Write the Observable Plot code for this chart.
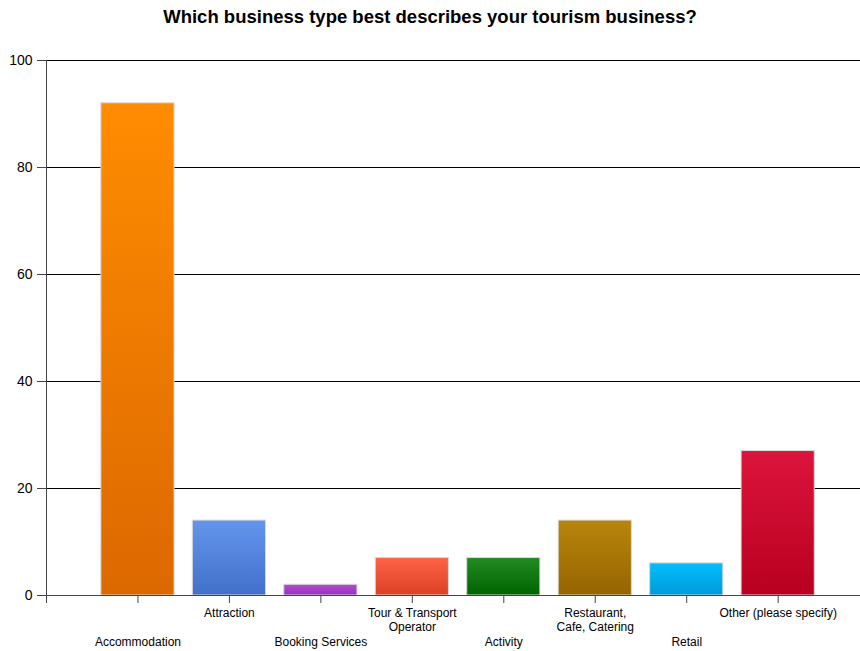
<!DOCTYPE html>
<html>
<head>
<meta charset="utf-8">
<script src="https://cdn.jsdelivr.net/npm/d3@7"></script>
<script src="https://cdn.jsdelivr.net/npm/@observablehq/plot@0.6"></script>
<style>
  body { margin: 0; background: #fff; font-family: "Liberation Sans", Arial, sans-serif; }
  #title { height: 40px; line-height: 34px; text-align: center; font-weight: bold; font-size: 18.5px; color: #000; width: 860px; }
</style>
</head>
<body>
<div id="title">Which business type best describes your tourism business?</div>
<div id="chart"></div>
<script>
const categories = ["Accommodation", "Attraction", "Booking Services", "Tour & Transport\nOperator", "Activity", "Restaurant,\nCafe, Catering", "Retail", "Other (please specify)"];
const values = [92, 14, 2, 7, 7, 14, 6, 27];
const topColors = ["#FF8C00", "#6495ED", "#B44FD0", "#FF6347", "#228B22", "#B8860B", "#00BFFF", "#DC143C"];
const bottomColors = ["#DC6800", "#4270C8", "#9530C0", "#DC4025", "#006400", "#966400", "#009AD8", "#B80020"];
const yTicks = [0, 20, 40, 60, 80, 100];

const data = categories.map((c, i) => ({pos: i + 1, category: c, value: values[i], grad: `url(#grad${i})`}));

const defs = () => {
  const d = d3.create("svg:defs");
  topColors.forEach((c, i) => {
    const g = d.append("linearGradient").attr("id", `grad${i}`).attr("x1", 0).attr("y1", 0).attr("x2", 0).attr("y2", 1);
    g.append("stop").attr("offset", "0%").attr("stop-color", c);
    g.append("stop").attr("offset", "100%").attr("stop-color", bottomColors[i]);
  });
  return d.node();
};

const chart = Plot.plot({
  width: 860,
  height: 611,
  marginLeft: 46,
  marginRight: 0,
  marginTop: 20,
  marginBottom: 56,
  style: {fontFamily: "Liberation Sans, Arial, sans-serif", color: "#000", background: "#fff"},
  x: {type: "linear", domain: [0, 8.9]},
  y: {domain: [0, 100]},
  color: {type: "identity"},
  marks: [
    defs,
    Plot.ruleY(yTicks.filter(v => v > 0), {stroke: "#000", strokeWidth: 1}),
    Plot.rectY(data, {x1: d => d.pos - 0.4, x2: d => d.pos + 0.4, y1: 0, y2: "value", fill: "grad", stroke: "#d8d8d8", strokeWidth: 1}),
    Plot.ruleY([0], {stroke: "#444"}),
    Plot.ruleX([0], {stroke: "#444"}),
    Plot.axisY({ticks: yTicks, tickSize: 9, tickPadding: 5, fontSize: 14, stroke: "#444", label: null}),
    Plot.axisX({ticks: d3.range(0, 9), tickSize: 8, tickFormat: () => "", stroke: "#444", label: null}),
    Plot.axisX({ticks: [2, 4, 6, 8], tickSize: 0, tickPadding: 12, fontSize: 12, lineHeight: 1.15, tickFormat: i => categories[i - 1], label: null}),
    Plot.axisX({ticks: [1, 3, 5, 7], tickSize: 0, tickPadding: 42, fontSize: 12, tickFormat: i => categories[i - 1], label: null})
  ]
});
document.getElementById("chart").appendChild(chart);
</script>
</body>
</html>
